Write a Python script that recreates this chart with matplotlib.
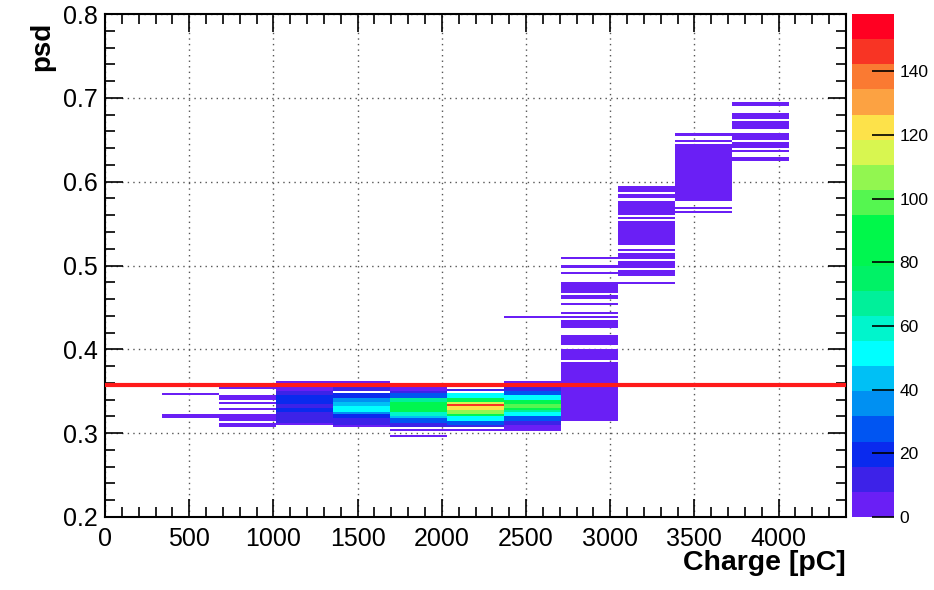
import matplotlib
matplotlib.use("Agg")
import matplotlib.pyplot as plt
from matplotlib.colors import ListedColormap, BoundaryNorm
from matplotlib.ticker import MultipleLocator
import numpy as np

# ----------------------------------------------------
# Histogram binning
# ----------------------------------------------------

charge_min, charge_max, n_charge_bins = 0, 4400, 13
psd_min, psd_max, psd_step = 0.2, 0.8, 0.0025

# PSD cut drawn as the red line
psd_cut = 0.358

# ----------------------------------------------------
# Filled cells per charge bin: (psd_low, psd_high, counts)
# ----------------------------------------------------

col_1 = [(0.347, 0.347, 3), (0.3185, 0.3235, 6)]

col_2 = [(0.354, 0.354, 2), (0.3395, 0.3445, 7), (0.3356, 0.3356, 4),
         (0.3288, 0.3288, 4), (0.3185, 0.3235, 6), (0.3157, 0.3157, 3),
         (0.3117, 0.3117, 3), (0.3077, 0.3077, 2)]

col_3 = [(0.359, 0.362, 3), (0.350, 0.358, 6), (0.345, 0.350, 10),
         (0.336, 0.345, 18), (0.330, 0.336, 12), (0.324, 0.330, 21),
         (0.318, 0.324, 14), (0.312, 0.318, 9), (0.309, 0.312, 4)]

col_4 = [(0.357, 0.362, 5), (0.349, 0.355, 9), (0.343, 0.348, 20),
         (0.338, 0.343, 35), (0.332, 0.338, 44), (0.326, 0.332, 48),
         (0.322, 0.326, 35), (0.317, 0.322, 22), (0.311, 0.317, 12),
         (0.307, 0.311, 5)]

col_5 = [(0.351, 0.357, 6), (0.347, 0.351, 12), (0.343, 0.347, 30),
         (0.337, 0.342, 66), (0.324, 0.337, 84), (0.320, 0.324, 60),
         (0.317, 0.320, 42), (0.313, 0.317, 28), (0.308, 0.313, 12),
         (0.302, 0.306, 5), (0.296, 0.296, 3)]

col_6 = [(0.350, 0.353, 10), (0.343, 0.348, 55), (0.337, 0.343, 85),
         (0.335, 0.337, 115), (0.332, 0.335, 150), (0.327, 0.332, 124),
         (0.323, 0.327, 106), (0.319, 0.323, 80), (0.315, 0.319, 55),
         (0.311, 0.315, 30), (0.308, 0.311, 12), (0.305, 0.305, 3)]

col_7 = [(0.439, 0.439, 3), (0.359, 0.362, 4), (0.349, 0.359, 8),
         (0.345, 0.349, 25), (0.341, 0.345, 55), (0.336, 0.341, 80),
         (0.331, 0.336, 95), (0.328, 0.331, 85), (0.324, 0.328, 65),
         (0.320, 0.324, 50), (0.316, 0.320, 30), (0.311, 0.316, 15),
         (0.302, 0.311, 5)]

col_8 = [(0.5095, 0.5095, 2), (0.4995, 0.4995, 2), (0.4907, 0.4907, 2),
         (0.479, 0.479, 2), (0.4668, 0.4767, 4), (0.4588, 0.4648, 4),
         (0.4535, 0.4535, 2), (0.4445, 0.4445, 2), (0.439, 0.439, 2),
         (0.4242, 0.4358, 4), (0.4043, 0.4179, 4), (0.3884, 0.4004, 4),
         (0.366, 0.386, 4), (0.3602, 0.3642, 3), (0.3177, 0.3574, 5),
         (0.3167, 0.3167, 2)]

col_9 = [(0.588, 0.5948, 4), (0.580, 0.5861, 4), (0.5602, 0.5781, 5),
         (0.5565, 0.5565, 2), (0.5244, 0.5534, 5), (0.5177, 0.5205, 3),
         (0.5086, 0.5157, 4), (0.4985, 0.5057, 4), (0.4887, 0.4946, 3),
         (0.479, 0.479, 2)]

col_10 = [(0.655, 0.655, 2), (0.6485, 0.6485, 3), (0.5781, 0.6458, 5),
          (0.569, 0.569, 2), (0.564, 0.564, 2)]

col_11 = [(0.6936, 0.6936, 2), (0.6904, 0.6904, 2), (0.6756, 0.6815, 4),
          (0.6636, 0.6716, 4), (0.6497, 0.6577, 4), (0.6398, 0.6478, 4),
          (0.6338, 0.6386, 3), (0.6288, 0.6288, 2), (0.6252, 0.6252, 2)]

charge_columns = {1: col_1, 2: col_2, 3: col_3, 4: col_4, 5: col_5, 6: col_6,
                  7: col_7, 8: col_8, 9: col_9, 10: col_10, 11: col_11}

# ROOT style palette, 20 contour levels
palette = ['#6a1ff5', '#3d22e8', '#0a2aee', '#0055f2', '#0090f2',
           '#00c0f5', '#00ffff', '#00f5cc', '#00f09a', '#00f266',
           '#00f650', '#00f84a', '#55f650', '#92f650', '#d8f650',
           '#fde24a', '#fca242', '#fa7a32', '#f83424', '#ff0022']
z_max = 158
cbar_ticks = [0, 20, 40, 60, 80, 100, 120, 140]

# ----------------------------------------------------
# Build the 2D histogram
# ----------------------------------------------------

x_edges = np.linspace(charge_min, charge_max, n_charge_bins + 1)
y_edges = np.arange(psd_min, psd_max + psd_step / 2, psd_step)
counts = np.zeros((len(y_edges) - 1, n_charge_bins))

for ix, segs in charge_columns.items():
    for lo, hi, c in segs:
        if hi > lo:
            i0 = int(round((lo - psd_min) / psd_step))
            i1 = max(i0, int(round((hi - psd_min) / psd_step)) - 1)
        else:
            i0 = i1 = int((lo - psd_min) / psd_step)
        counts[i0:i1 + 1, ix] = c

counts = np.ma.masked_equal(counts, 0)

# ----------------------------------------------------
# Plot
# ----------------------------------------------------

plt.rcParams['font.family'] = ['Liberation Sans', 'DejaVu Sans']

fig = plt.figure(figsize=(9.34, 5.9), dpi=100)
ax = fig.add_axes([105 / 934, 73 / 590, 741 / 934, 503 / 590])
cax = fig.add_axes([852 / 934, 73 / 590, 42 / 934, 503 / 590])

cmap = ListedColormap(palette)
norm = BoundaryNorm(np.linspace(0, z_max, len(palette) + 1), cmap.N)

mesh = ax.pcolormesh(x_edges, y_edges, counts, cmap=cmap, norm=norm,
                     edgecolor='none')

ax.axhline(psd_cut, color='#ff1a1a', lw=3, zorder=5)

ax.set_xlim(charge_min, charge_max)
ax.set_ylim(psd_min, psd_max)

ax.xaxis.set_major_locator(MultipleLocator(500))
ax.xaxis.set_minor_locator(MultipleLocator(100))
ax.yaxis.set_major_locator(MultipleLocator(0.1))
ax.yaxis.set_minor_locator(MultipleLocator(0.02))

ax.grid(True, which='major', color='#555555', linestyle=(0, (1, 3)), lw=1.0)
ax.set_axisbelow(True)

ax.tick_params(which='both', direction='in', top=True, right=True,
               width=1.2, labelsize=18)
ax.tick_params(which='major', length=13)
ax.tick_params(which='minor', length=7)
ax.tick_params(axis='x', pad=7)
ax.tick_params(axis='y', pad=5)
ax.yaxis.set_major_formatter(plt.FuncFormatter(lambda v, p: f"{v:.1f}"))

for sp in ax.spines.values():
    sp.set_linewidth(1.5)

ax.set_xlabel('Charge [pC]', fontsize=20.5, fontweight='bold', loc='right')
ax.xaxis.set_label_coords(1.0, -0.065)
ax.set_ylabel('psd', fontsize=20, fontweight='bold', loc='top')
ax.yaxis.set_label_coords(-0.067, 0.985)

cb = fig.colorbar(mesh, cax=cax, ticks=cbar_ticks)
cb.outline.set_visible(False)
cax.tick_params(direction='in', length=16, width=1.2, labelsize=12.5, pad=4)
cax.minorticks_off()

plt.savefig('out.png', dpi=100)
